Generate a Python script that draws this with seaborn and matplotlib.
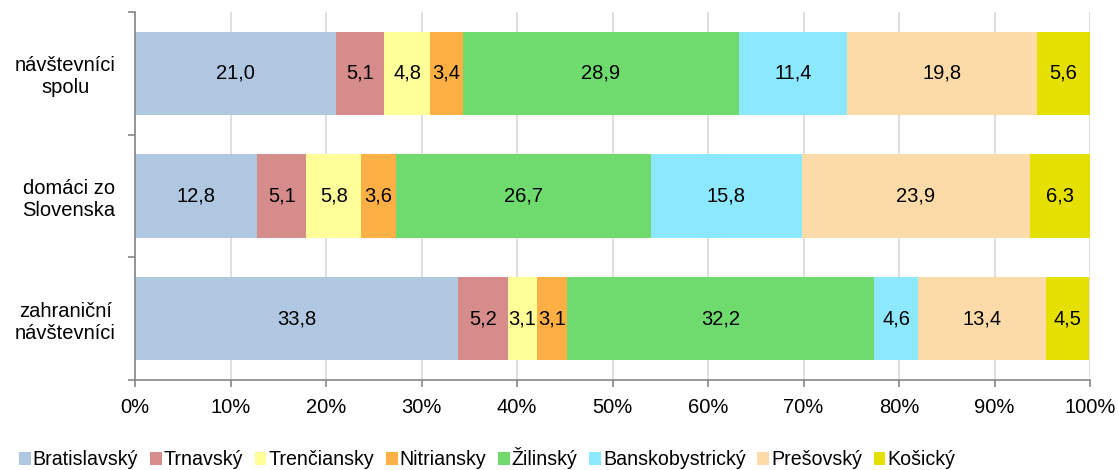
import numpy as np
import pandas as pd
import matplotlib.pyplot as plt
import seaborn as sns
from matplotlib.patches import Patch
from matplotlib.ticker import FixedLocator, PercentFormatter

groups = ['návštevníci\nspolu', 'domáci zo\nSlovenska', 'zahraniční\nnávštevníci']
regions = ['Bratislavský', 'Trnavský', 'Trenčiansky', 'Nitriansky', 'Žilinský',
           'Banskobystrický', 'Prešovský', 'Košický']
colors = ['#B0C7E1', '#D78C8C', '#FFFF99', '#FFB045', '#6FDB6F',
          '#8BE8FF', '#FDDBA8', '#E6E000']

bratislavsky = [21.0, 12.8, 33.8]
trnavsky = [5.1, 5.1, 5.2]
trenciansky = [4.8, 5.8, 3.1]
nitriansky = [3.4, 3.6, 3.1]
zilinsky = [28.9, 26.7, 32.2]
banskobystricky = [11.4, 15.8, 4.6]
presovsky = [19.8, 23.9, 13.4]
kosicky = [5.6, 6.3, 4.5]

df = pd.DataFrame(dict(zip(regions, [bratislavsky, trnavsky, trenciansky, nitriansky,
                                     zilinsky, banskobystricky, presovsky, kosicky])),
                  index=groups)
share = df / 100
cum = share.cumsum(axis=1)

plt.rcParams['font.family'] = ['Liberation Sans', 'DejaVu Sans']
fig = plt.figure(figsize=(11.18, 4.70), dpi=100)
ax = fig.add_axes([0.1208, 0.1915, 0.8542, 0.783])

# stack by overlaying cumulative totals, widest first
for reg, col in reversed(list(zip(regions, colors))):
    sns.barplot(x=cum[reg].values, y=groups, orient='h', color=col,
                width=0.68, saturation=1, ax=ax, zorder=2)

for i, g in enumerate(groups):
    for reg in regions:
        v = df.loc[g, reg]
        xc = cum.loc[g, reg] - share.loc[g, reg] / 2
        ax.text(xc, i, f'{v:.1f}'.replace('.', ','), ha='center', va='center',
                fontsize=14.5, color='black', zorder=3)

ax.set_xlim(0, 1)
ax.set_ylim(2.5, -0.5)
ax.xaxis.set_major_locator(FixedLocator(np.arange(0, 1.01, 0.1)))
ax.xaxis.set_major_formatter(PercentFormatter(1.0, decimals=0))
ax.grid(axis='x', color='#D9D9D9', linewidth=1.2, zorder=0)
ax.set_axisbelow(True)
ax.set_xlabel('')
ax.set_ylabel('')

for s in ['top', 'right']:
    ax.spines[s].set_visible(False)
for s in ['left', 'bottom']:
    ax.spines[s].set_color('#868686')
    ax.spines[s].set_linewidth(1.2)

ax.tick_params(axis='x', direction='out', length=5, width=1.2, color='#868686',
               labelsize=14.5, pad=8)
ax.tick_params(axis='y', which='major', length=0, labelsize=14.5, pad=14)
ax.yaxis.set_minor_locator(FixedLocator([-0.5, 0.5, 1.5, 2.5]))
ax.tick_params(axis='y', which='minor', direction='out', length=5, width=1.2,
               color='#868686')
for lbl in ax.get_yticklabels():
    lbl.set_multialignment('center')

handles = [Patch(facecolor=c, edgecolor='none') for c in colors]
fig.legend(handles, regions, loc='center left', bbox_to_anchor=(0.017, 0.025),
           ncol=8, frameon=False, fontsize=14.1, handlelength=0.6,
           handleheight=0.6, handletextpad=0.1, columnspacing=0.6,
           borderaxespad=0, borderpad=0)

fig.savefig('out.png', dpi=100)
